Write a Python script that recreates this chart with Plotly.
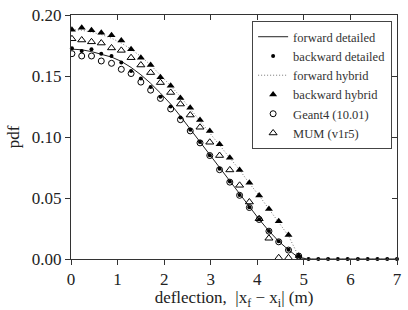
import plotly.graph_objects as go

x = [0.02, 0.23, 0.44, 0.65, 0.87, 1.08, 1.29, 1.50, 1.71, 1.92, 2.14, 2.35,
     2.56, 2.77, 2.98, 3.19, 3.41, 3.62, 3.83, 4.04, 4.25, 4.46, 4.67, 4.89,
     5.10, 5.31, 5.52, 5.73, 5.94, 6.16, 6.37, 6.58, 6.79, 7.00]

forward_detailed = [0.172, 0.1715, 0.170, 0.168, 0.1655, 0.162, 0.157, 0.151, 0.144,
                    0.136, 0.127, 0.117, 0.1065, 0.096, 0.085, 0.074, 0.063, 0.0525,
                    0.0425, 0.0325, 0.023, 0.0145, 0.0075, 0.001,
                    0, 0, 0, 0, 0, 0, 0, 0, 0, 0]

backward_detailed = [0.1727, 0.1705, 0.172, 0.1683, 0.1664, 0.161, 0.154, 0.148, 0.141,
                     0.133, 0.125, 0.116, 0.106, 0.096, 0.085, 0.074, 0.0635, 0.0525,
                     0.0425, 0.0325, 0.023, 0.0145, 0.0075, 0.0025,
                     0, 0, 0, 0, 0, 0, 0, 0, 0, 0]

forward_hybrid = [0.188, 0.1875, 0.186, 0.184, 0.181, 0.177, 0.172, 0.166, 0.159,
                  0.151, 0.142, 0.133, 0.123, 0.113, 0.103, 0.093, 0.083, 0.073,
                  0.062, 0.052, 0.041, 0.030, 0.019, 0.002,
                  0, 0, 0, 0, 0, 0, 0, 0, 0, 0]

backward_hybrid = [0.188, 0.1895, 0.1876, 0.1854, 0.1835, 0.179, 0.172, 0.165, 0.159,
                   0.149, 0.142, 0.132, 0.124, 0.114, 0.105, 0.094, 0.083, 0.073,
                   0.0625, 0.052, 0.041, 0.031, 0.0196, 0.0024]

geant4 = [0.1683, 0.1664, 0.1664, 0.1623, 0.1604, 0.1555, 0.152, 0.145, 0.1384,
          0.1316, 0.123, 0.1142, 0.105, 0.0952, 0.0848, 0.0732, 0.063, 0.0522,
          0.0422, 0.0324, 0.0228, 0.0141, 0.0073, 0.0024]

mum = [0.1805, 0.1795, 0.178, 0.177, 0.173, 0.171, 0.165, 0.159, 0.1528,
       0.1446, 0.1365, 0.127, 0.118, 0.108, 0.0957, 0.0848, 0.0730, 0.0604,
       0.0467, 0.033, 0.017, 0.001, 0.001]

FONT = "Liberation Serif"

fig = go.Figure()
fig.add_trace(go.Scatter(x=x, y=forward_detailed, mode="lines", name="forward detailed",
                         line=dict(color="#222", width=1)))
fig.add_trace(go.Scatter(x=x, y=backward_detailed, mode="markers", name="backward detailed",
                         marker=dict(color="black", size=4), cliponaxis=False))
fig.add_trace(go.Scatter(x=x, y=forward_hybrid, mode="lines", name="forward hybrid",
                         line=dict(color="#777", width=1, dash="1px,2px")))
fig.add_trace(go.Scatter(x=x[:len(backward_hybrid)], y=backward_hybrid, mode="markers",
                         name="backward hybrid",
                         marker=dict(color="black", size=7, symbol="triangle-up")))
fig.add_trace(go.Scatter(x=x[:len(geant4)], y=geant4, mode="markers", name="Geant4 (10.01)",
                         marker=dict(color="black", size=6, symbol="circle-open",
                                     line=dict(color="black", width=1))))
fig.add_trace(go.Scatter(x=x[:len(mum)], y=mum, mode="markers", name="MUM (v1r5)",
                         marker=dict(size=7, symbol="triangle-up-open",
                                     line=dict(color="black", width=1), color="black")))
# dummy trace for mirrored inward ticks
fig.add_trace(go.Scatter(x=[None], y=[None], xaxis="x2", yaxis="y2", showlegend=False,
                         hoverinfo="skip"))

axis_common = dict(showgrid=False, zeroline=False, showline=True, linecolor="#333",
                   linewidth=1, tickcolor="#333", ticklen=5, tickwidth=1)

fig.update_layout(
    width=408, height=310,
    margin=dict(l=71, r=6, t=14, b=51),
    paper_bgcolor="white", plot_bgcolor="white",
    font=dict(family=FONT, size=17, color="#222"),
    xaxis=dict(range=[0, 7], dtick=1, ticks="outside", tickformat="d",
               title=dict(text="deflection,  |x<sub>f</sub> − x<sub>i</sub>| (m)",
                          standoff=1, font=dict(size=17)),
               **axis_common),
    yaxis=dict(range=[0, 0.2], dtick=0.05, ticks="outside", tickformat=".2f",
               title=dict(text="pdf", standoff=7, font=dict(size=17)),
               **axis_common),
    xaxis2=dict(range=[0, 7], dtick=1, overlaying="x", side="top", anchor="y",
                ticks="inside", showticklabels=False, **axis_common),
    yaxis2=dict(range=[0, 0.2], dtick=0.05, overlaying="y", side="right", anchor="x",
                ticks="inside", showticklabels=False, **axis_common),
    legend=dict(x=0.985, y=0.975, xanchor="right", yanchor="top",
                bordercolor="#444", borderwidth=1, bgcolor="white",
                font=dict(family=FONT, size=12.5, color="#333")),
    showlegend=True,
)

fig.write_html("out.html")
